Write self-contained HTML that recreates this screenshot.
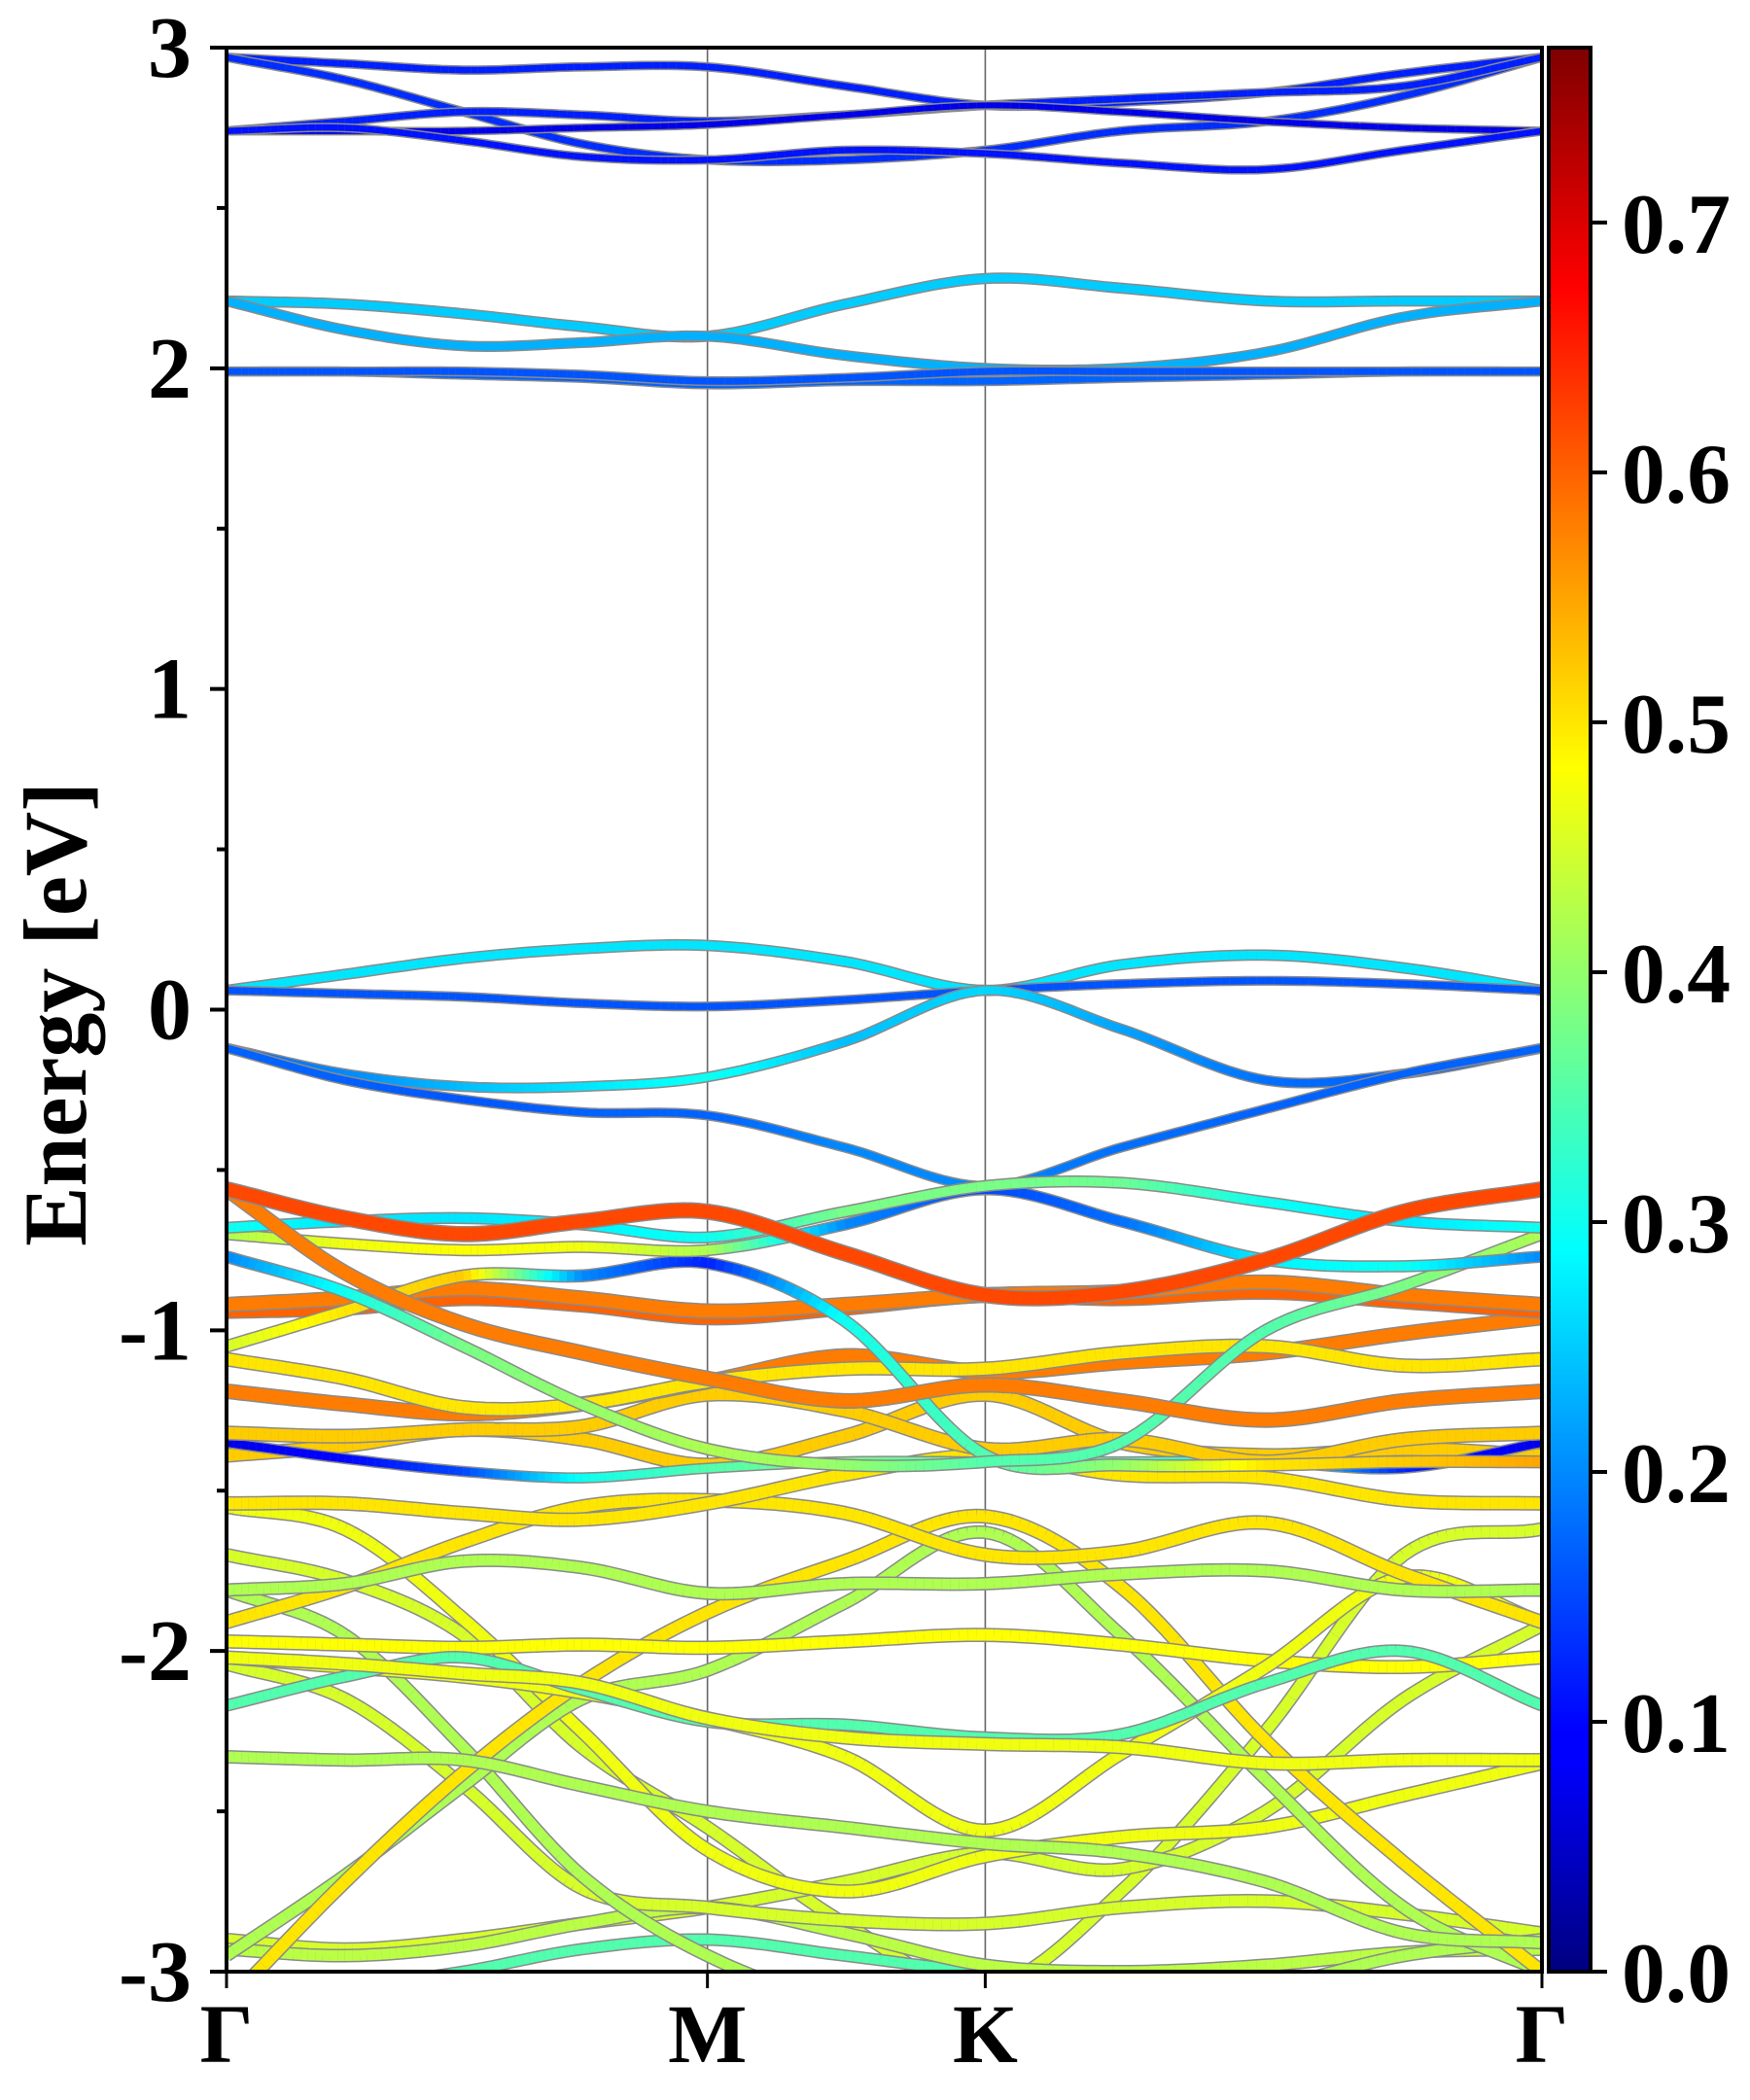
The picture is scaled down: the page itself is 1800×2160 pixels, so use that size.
<!DOCTYPE html>
<html><head><meta charset="utf-8">
<style>
html,body{margin:0;padding:0;background:#fff;}
svg{display:block;}
text{font-family:"Liberation Serif",serif;font-weight:bold;fill:#000;}
</style></head>
<body>
<svg id="chart" width="1800" height="2160" viewBox="0 0 1800 2160" xmlns="http://www.w3.org/2000/svg">
<defs><clipPath id="plotclip"><rect x="233" y="49" width="1353" height="1979"/></clipPath>
<linearGradient id="jetgrad" x1="0" y1="1" x2="0" y2="0">
<stop offset="0" stop-color="#00007f"/><stop offset="0.11" stop-color="#0000ff"/><stop offset="0.125" stop-color="#0000ff"/>
<stop offset="0.375" stop-color="#00ffff"/><stop offset="0.5" stop-color="#7fff7f"/><stop offset="0.625" stop-color="#ffff00"/>
<stop offset="0.875" stop-color="#ff0000"/><stop offset="1" stop-color="#7f0000"/></linearGradient></defs>
<g id="bands" clip-path="url(#plotclip)"></g>
<g id="axes"></g>
</svg>
<script>
// ---- data ----
const kLabels = ["Γ","M","K","Γ"];
const kLabelPos = [0, 0.3656, 0.5768, 1];
const kSamples = [0, 0.09, 0.18, 0.27, 0.3656, 0.47, 0.5768, 0.68, 0.79, 0.895, 1];
const yTicks = [3,2,1,0,-1,-2,-3];
const cbTicks = [0.0,0.1,0.2,0.3,0.4,0.5,0.6,0.7];
const cbMax = 0.77;
const bandA = [2.97,2.95,2.93,2.94,2.94,2.88,2.82,2.83,2.86,2.92,2.97];
const bandB = [2.97,2.90,2.80,2.70,2.65,2.65,2.68,2.74,2.77,2.85,2.97];
const bandC = [2.74,2.77,2.80,2.79,2.77,2.79,2.82,2.84,2.86,2.88,2.97];
const bandD = [2.74,2.74,2.74,2.75,2.76,2.79,2.82,2.80,2.77,2.75,2.74];
const bandE = [2.74,2.75,2.71,2.66,2.65,2.68,2.67,2.64,2.62,2.68,2.74];
const bandF = [2.21,2.20,2.17,2.13,2.10,2.20,2.28,2.25,2.21,2.21,2.21];
const bandG = [2.21,2.12,2.07,2.08,2.10,2.04,2.00,2.00,2.05,2.16,2.21];
const bandH = [1.99,1.99,1.98,1.97,1.95,1.96,1.96,1.97,1.98,1.99,1.99];
const bandI = [1.99,1.99,1.99,1.98,1.96,1.97,1.99,1.99,1.99,1.99,1.99];
const bandJ = [0.06,0.11,0.16,0.19,0.20,0.15,0.06,0.14,0.17,0.13,0.06];
const bandK = [0.06,0.05,0.04,0.02,0.01,0.03,0.06,0.08,0.09,0.08,0.06];
const bandL = [-0.12,-0.20,-0.24,-0.24,-0.21,-0.10,0.06,-0.06,-0.22,-0.20,-0.12];
const bandM = [-0.12,-0.22,-0.28,-0.32,-0.33,-0.43,-0.55,-0.43,-0.31,-0.20,-0.12];
const band1 = [-0.56,-0.65,-0.70,-0.66,-0.63,-0.76,-0.89,-0.88,-0.78,-0.63,-0.56];
const band2 = [-0.56,-0.82,-0.98,-1.07,-1.15,-1.22,-1.17,-1.22,-1.28,-1.22,-1.19];
const band3 = [-0.68,-0.66,-0.65,-0.67,-0.71,-0.63,-0.55,-0.54,-0.60,-0.66,-0.68];
const band4 = [-0.70,-0.73,-0.75,-0.74,-0.75,-0.67,-0.56,-0.66,-0.78,-0.80,-0.77];
const band5 = [-0.77,-0.88,-1.05,-1.23,-1.37,-1.42,-1.41,-1.35,-1.00,-0.86,-0.70];
const band6 = [-1.05,-0.94,-0.83,-0.83,-0.79,-0.97,-1.39,-1.42,-1.42,-1.41,-1.41];
const band7 = [-0.92,-0.90,-0.87,-0.90,-0.94,-0.92,-0.89,-0.88,-0.85,-0.89,-0.92];
const band8 = [-0.94,-0.93,-0.90,-0.92,-0.96,-0.93,-0.89,-0.90,-0.88,-0.91,-0.94];
const band9 = [-1.09,-1.15,-1.24,-1.23,-1.16,-1.12,-1.12,-1.07,-1.05,-1.11,-1.09];
const band10 = [-1.19,-1.23,-1.26,-1.23,-1.16,-1.08,-1.13,-1.10,-1.07,-1.01,-0.96];
const band11 = [-1.32,-1.33,-1.31,-1.30,-1.20,-1.25,-1.37,-1.34,-1.41,-1.34,-1.32];
const band12 = [-1.35,-1.40,-1.44,-1.46,-1.43,-1.41,-1.41,-1.41,-1.41,-1.43,-1.35];
const band13 = [-1.39,-1.36,-1.31,-1.34,-1.42,-1.33,-1.20,-1.35,-1.39,-1.37,-1.39];
const band14 = [-1.54,-1.54,-1.57,-1.59,-1.54,-1.45,-1.39,-1.45,-1.46,-1.53,-1.54];
const band15 = [-1.81,-1.79,-1.72,-1.74,-1.82,-1.79,-1.79,-1.76,-1.75,-1.81,-1.81];
const band16 = [-1.91,-1.80,-1.66,-1.55,-1.53,-1.57,-1.70,-1.69,-1.60,-1.76,-1.91];
const band17 = [-2.02,-2.04,-2.07,-2.10,-2.21,-2.27,-2.29,-2.30,-2.35,-2.34,-2.34];
const band18 = [-2.17,-2.08,-2.02,-2.12,-2.22,-2.23,-2.27,-2.26,-2.10,-2.00,-2.17];
const band19 = [-2.33,-2.34,-2.34,-2.42,-2.50,-2.55,-2.60,-2.63,-2.72,-2.88,-2.91];
const band20 = [-2.02,-2.05,-2.08,-2.13,-2.21,-2.33,-2.56,-2.32,-2.05,-1.77,-1.91];
const band21 = [-1.97,-1.98,-1.99,-1.98,-1.99,-1.97,-1.95,-1.98,-2.03,-2.05,-2.02];
const band22 = [-3.10,-2.72,-2.38,-2.10,-1.88,-1.72,-1.58,-1.80,-2.28,-2.66,-3.00];
const band23 = [-2.95,-2.70,-2.42,-2.15,-2.06,-1.85,-1.63,-1.95,-2.40,-2.80,-3.00];
const band24 = [-1.55,-1.62,-1.90,-2.25,-2.62,-2.75,-2.64,-2.58,-2.55,-2.45,-2.35];
const band25 = [-1.81,-1.95,-2.30,-2.70,-2.95,-3.10,-3.15,-3.10,-3.05,-2.95,-2.90];
const band26 = [-2.04,-2.15,-2.42,-2.74,-2.80,-2.84,-2.85,-2.80,-2.78,-2.82,-2.88];
const band27 = [-2.93,-2.95,-2.92,-2.85,-2.80,-2.88,-2.98,-3.00,-2.98,-2.94,-2.93];
const band28 = [-3.10,-3.05,-3.00,-2.93,-2.90,-2.95,-3.00,-3.00,-3.02,-3.05,-3.10];
const band29 = [-2.90,-2.93,-2.90,-2.85,-2.80,-2.72,-2.63,-2.68,-2.50,-2.15,-1.92];
const band30 = [-1.70,-1.78,-1.95,-2.30,-2.55,-2.85,-3.05,-2.75,-2.25,-1.70,-1.62];
const weightA = [0.12]; const weightB = [0.13]; const weightC = [0.12]; const weightD = [0.08]; const weightE = [0.11];
const weightF = [0.25]; const weightG = [0.23]; const weightH = [0.17]; const weightI = [0.16];
const weightJ = [0.27]; const weightK = [0.16];
const weightL = [0.17,0.2,0.24,0.27,0.30,0.24,0.26,0.22,0.18,0.17,0.17];
const weightM = [0.17,0.17,0.16,0.17,0.17,0.2,0.2,0.18,0.17,0.17,0.17];
const weight1 = [0.62]; const weight2 = [0.58]; const weight3 = [0.3,0.27,0.27,0.28,0.3,0.38,0.38,0.37,0.3,0.27,0.3];
const weight4 = [0.42,0.47,0.48,0.47,0.42,0.2,0.15,0.18,0.28,0.3,0.2];
const weight5 = [0.2,0.3,0.38,0.4,0.42,0.4,0.35,0.35,0.35,0.38,0.42];
const weight6 = [0.45,0.5,0.52,0.2,0.12,0.3,0.35,0.4,0.5,0.52,0.55];
const weight7 = [0.58]; const weight8 = [0.6]; const weight9 = [0.5]; const weight10 = [0.58];
const weight11 = [0.52]; const weight12 = [0.08,0.1,0.15,0.3,0.35,0.38,0.35,0.35,0.3,0.12,0.08];
const weight13 = [0.52]; const weight14 = [0.5]; const weight15 = [0.42]; const weight16 = [0.5];
const weight17 = [0.47]; const weight18 = [0.35]; const weight19 = [0.42]; const weight20 = [0.47];
const weight21 = [0.48]; const weight22 = [0.5]; const weight23 = [0.42]; const weight24 = [0.47];
const weight25 = [0.42]; const weight26 = [0.45]; const weight27 = [0.43]; const weight28 = [0.35];
const weight29 = [0.45]; const weight30 = [0.45];
const bandList = [bandA,bandB,bandC,bandD,bandE,bandF,bandG,bandH,bandI,bandJ,bandK,bandL,bandM,
  band30,band29,band28,band27,band26,band25,band24,band23,band22,band21,band20,band19,band18,band17,band16,band15,
  band14,band13,band12,band11,band10,band9,band8,band7,band6,band5,band4,band3,band2,band1];
const weightList = [weightA,weightB,weightC,weightD,weightE,weightF,weightG,weightH,weightI,weightJ,weightK,weightL,weightM,
  weight30,weight29,weight28,weight27,weight26,weight25,weight24,weight23,weight22,weight21,weight20,weight19,weight18,weight17,weight16,weight15,
  weight14,weight13,weight12,weight11,weight10,weight9,weight8,weight7,weight6,weight5,weight4,weight3,weight2,weight1];

// ---- axes functions ----
const X0=233, X1=1586, Y0=49, Y1=2028, EMIN=-3, EMAX=3;
function xs(k){return X0+k*(X1-X0);}
function ys(e){return Y1-(e-EMIN)/(EMAX-EMIN)*(Y1-Y0);}
function cl(v){return Math.max(0,Math.min(1,v));}
function jet(w){const t=cl(w/cbMax);
  const r=cl(1.5-Math.abs(4*t-3)),g=cl(1.5-Math.abs(4*t-2)),b=cl(1.5-Math.abs(4*t-1));
  return `rgb(${Math.round(r*255)},${Math.round(g*255)},${Math.round(b*255)})`;}
const NS="http://www.w3.org/2000/svg";
function mk(tag,attrs,parent){const el=document.createElementNS(NS,tag);for(const a in attrs)el.setAttribute(a,attrs[a]);parent.appendChild(el);return el;}
function herm(arr,i,t){
  const n=arr.length;
  const tan=j=>{if(j===0)return (arr[1]-arr[0])/(kSamples[1]-kSamples[0]);
    if(j===n-1)return (arr[n-1]-arr[n-2])/(kSamples[n-1]-kSamples[n-2]);
    return (arr[j+1]-arr[j-1])/(kSamples[j+1]-kSamples[j-1]);};
  const h=kSamples[i+1]-kSamples[i];
  const t2=t*t,t3=t2*t;
  return (2*t3-3*t2+1)*arr[i]+(t3-2*t2+t)*h*tan(i)+(-2*t3+3*t2)*arr[i+1]+(t3-t2)*h*tan(i+1);}
function wAt(w,i,t){if(w.length===1)return w[0];return w[i]+(w[i+1]-w[i])*t;}

const gB=document.getElementById('bands');
for(let i=1;i<kLabelPos.length-1;i++){
  const vl=mk('line',{x1:xs(kLabelPos[i]),x2:xs(kLabelPos[i]),y1:Y0,y2:Y1,stroke:'#666','stroke-width':1.6},gB);
  
  
}
const SUB=16;
bandList.forEach((band,bi)=>{
  const w=weightList[bi];
  const g=mk('g',{},gB);
  
  
  let pts=[];
  for(let i=0;i<kSamples.length-1;i++){
    for(let s=0;s<=SUB;s++){ if(i>0&&s===0)continue;
      const t=s/SUB;const k=kSamples[i]+(kSamples[i+1]-kSamples[i])*t;
      pts.push([xs(k),ys(herm(band,i,t)),wAt(w,i,t)]);}
  }
  const avgw=pts.reduce((a,p)=>a+p[2],0)/pts.length;
  const d='M'+pts.map(p=>p[0].toFixed(1)+','+p[1].toFixed(1)).join('L');
  const o=mk('path',{d:d,fill:'none',stroke:'#8a8a8a','stroke-width':(5+14*avgw+3).toFixed(1),'stroke-linejoin':'round'},g);
  
  
  for(let j=0;j<pts.length-1;j++){
    const ww=(pts[j][2]+pts[j+1][2])/2;
    mk('line',{x1:pts[j][0].toFixed(1),y1:pts[j][1].toFixed(1),x2:pts[j+1][0].toFixed(1),y2:pts[j+1][1].toFixed(1),stroke:jet(ww),'stroke-width':(5+14*avgw).toFixed(1),'stroke-linecap':'butt'},g);
  }
});

// ---- axes ----
const gA=document.getElementById('axes');
const frame=mk('rect',{x:X0,y:Y0,width:X1-X0,height:Y1-Y0,fill:'none',stroke:'#000','stroke-width':4},gA);


yTicks.forEach(v=>{
  const t=mk('line',{x1:X0-17,x2:X0,y1:ys(v),y2:ys(v),stroke:'#000','stroke-width':4},gA);
  
  
  const lb=mk('text',{x:197,y:ys(v)+30,'font-size':90,'text-anchor':'end'},gA);
  lb.textContent=String(v);
  
  
});
for(let v=-2.5;v<3;v+=1){
  const t=mk('line',{x1:X0-10,x2:X0,y1:ys(v),y2:ys(v),stroke:'#000','stroke-width':4},gA);
  
  
}
kLabelPos.forEach((k,i)=>{
  const t=mk('line',{x1:xs(k),x2:xs(k),y1:Y1,y2:Y1+17,stroke:'#000','stroke-width':3},gA);
  
  
  const lb=mk('text',{x:xs(k),y:2121,'font-size':86,'text-anchor':'middle'},gA);
  lb.textContent=kLabels[i];
  
  
});
const yl=mk('text',{x:0,y:0,'font-size':92,'text-anchor':'middle',transform:'translate(88,1043) rotate(-90)'},gA);
yl.textContent='Energy [eV]';


const CB0=1593, CB1=1636;
const cb=mk('rect',{x:CB0,y:Y0,width:CB1-CB0,height:Y1-Y0,fill:'url(#jetgrad)',stroke:'#000','stroke-width':4},gA);


cbTicks.forEach(v=>{
  const yy=Y1-v/cbMax*(Y1-Y0);
  const t=mk('line',{x1:CB1,x2:CB1+17,y1:yy,y2:yy,stroke:'#000','stroke-width':4},gA);
  
  
  const lb=mk('text',{x:1668,y:yy+31,'font-size':88,textLength:112,lengthAdjust:'spacingAndGlyphs'},gA);
  lb.textContent=v.toFixed(1);
  
  
});
</script>
</body></html>
